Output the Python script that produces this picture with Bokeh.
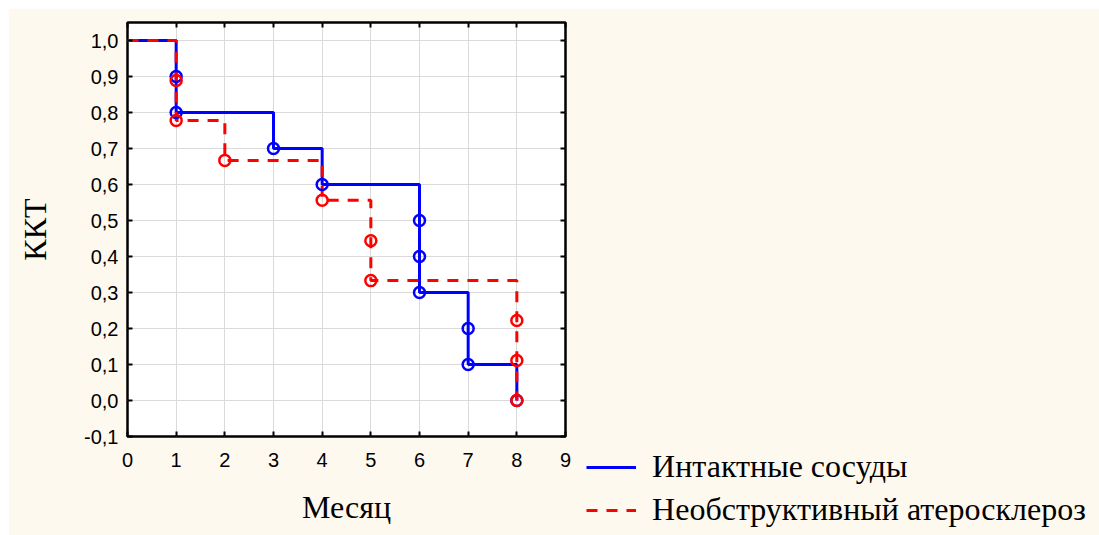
from bokeh.plotting import figure
from bokeh.models import (Range1d, FixedTicker, CustomJSTickFormatter, LinearAxis,
                          Legend, LegendItem)
from bokeh.embed import file_html
from bokeh.resources import INLINE

# ---- data ----
x_ticks = [0, 1, 2, 3, 4, 5, 6, 7, 8, 9]
y_ticks = [-0.1, 0.0, 0.1, 0.2, 0.3, 0.4, 0.5, 0.6, 0.7, 0.8, 0.9, 1.0]

series_names = ["Интактные сосуды", "Необструктивный атеросклероз"]

# step curves (value holds from this month until the next one)
blue_t = [0, 1, 3, 4, 6, 7, 8]
blue_s = [1.0, 0.8, 0.7, 0.6, 0.3, 0.1, 0.0]
red_t = [0, 1, 2, 4, 5, 8]
red_s = [1.0, 0.778, 0.667, 0.556, 0.333, 0.0]

# event points
blue_pt_t = [1, 1, 3, 4, 6, 6, 6, 7, 7, 8]
blue_pt_s = [0.9, 0.8, 0.7, 0.6, 0.5, 0.4, 0.3, 0.2, 0.1, 0.0]
red_pt_t = [1, 1, 2, 4, 5, 5, 8, 8, 8]
red_pt_s = [0.889, 0.778, 0.667, 0.556, 0.444, 0.333, 0.222, 0.111, 0.0]

BLUE = "#0000FF"
RED = "#FF0000"
BG = "#FEF9EF"
RED_DASH = "11 9"
SERIF = "Liberation Serif"

p = figure(frame_width=438, frame_height=414, output_backend="svg",
           toolbar_location=None,
           x_range=Range1d(0, 9), y_range=Range1d(-0.1, 1.05),
           min_border_left=119, min_border_right=0, min_border_top=14,
           min_border_bottom=99, background_fill_color="white",
           border_fill_color=BG, margin=(8, 0, 0, 8))

p.outline_line_color = "black"
p.outline_line_width = 2.5
p.outline_line_alpha = 1.0

fmt = CustomJSTickFormatter(code="return tick.toFixed(1).replace('.', ',');")
blank = CustomJSTickFormatter(code="return '';")

for ax in (p.xaxis[0], p.yaxis[0]):
    ax.axis_line_color = None
    ax.major_tick_in = 5
    ax.major_tick_out = 0
    ax.major_tick_line_width = 2
    ax.major_tick_line_color = "black"
    ax.minor_tick_line_color = None
    ax.major_label_text_font = "Liberation Sans"
    ax.major_label_text_font_size = "20px"
    ax.major_label_text_color = "black"
    ax.axis_label_text_font = SERIF
    ax.axis_label_text_font_size = "32px"
    ax.axis_label_text_font_style = "normal"
    ax.axis_label_text_color = "black"

p.xaxis.ticker = FixedTicker(ticks=x_ticks)
p.yaxis.ticker = FixedTicker(ticks=y_ticks)
p.yaxis.formatter = fmt
p.xaxis.axis_label = "Месяц"
p.yaxis.axis_label = "ККТ"
p.xaxis.major_label_standoff = 16
p.yaxis.major_label_standoff = 9
p.xaxis.axis_label_standoff = 19
p.yaxis.axis_label_standoff = 28

for side, ticks in (("above", x_ticks), ("right", y_ticks)):
    ax = LinearAxis(ticker=FixedTicker(ticks=ticks), formatter=blank,
                    axis_line_color=None, major_tick_in=5, major_tick_out=0,
                    major_tick_line_width=2, minor_tick_line_color=None,
                    major_label_standoff=0)
    p.add_layout(ax, side)

p.xgrid.ticker = FixedTicker(ticks=x_ticks)
p.ygrid.ticker = FixedTicker(ticks=y_ticks)
p.grid.grid_line_color = "#DADADA"
p.grid.grid_line_width = 1

r_blue = p.step(blue_t, blue_s, mode="after", line_color=BLUE, line_width=3)
r_red = p.step(red_t, red_s, mode="after", line_color=RED, line_width=3,
               line_dash=RED_DASH)
p.scatter(blue_pt_t, blue_pt_s, marker="circle", size=11, fill_color=None,
          line_color=BLUE, line_width=2.5)
p.scatter(red_pt_t, red_pt_s, marker="circle", size=11, fill_color=None,
          line_color=RED, line_width=2.5)

legend = Legend(items=[LegendItem(label=series_names[0], renderers=[r_blue]),
                       LegendItem(label=series_names[1], renderers=[r_red])],
                location=(-204, -92), padding=0, margin=0, spacing=6,
                glyph_width=50, glyph_height=36, label_height=36,
                label_standoff=16, border_line_color=None,
                background_fill_alpha=0, label_text_font=SERIF,
                label_text_font_size="32px", label_text_color="black")
p.add_layout(legend, "right")

open("out.html", "w").write(file_html(p, INLINE))
